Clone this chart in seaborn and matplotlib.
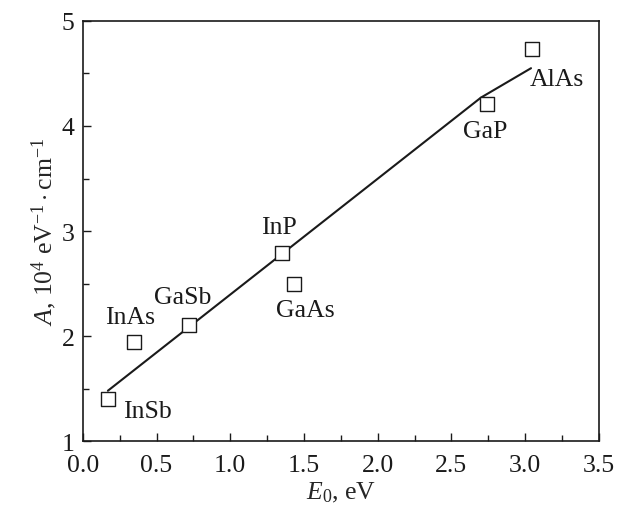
import matplotlib
matplotlib.use("Agg")
import matplotlib.pyplot as plt
import seaborn as sns
import pandas as pd
from matplotlib.ticker import MultipleLocator

# Data
materials = ["InSb", "InAs", "GaSb", "InP", "GaAs", "GaP", "AlAs"]
e0 = [0.17, 0.35, 0.72, 1.35, 1.43, 2.74, 3.05]
a_vals = [1.40, 1.94, 2.11, 2.79, 2.50, 4.21, 4.73]
# label anchor positions (data coords)
label_x = [0.27, 0.32, 0.68, 1.33, 1.51, 2.73, 3.03]
label_y = [1.29, 2.18, 2.37, 3.04, 2.25, 3.95, 4.45]
label_ha = ["left", "center", "center", "center", "center", "center", "left"]
# fit line
fit_x = [0.17, 2.70, 3.04]
fit_y = [1.48, 4.27, 4.55]

sns.set_style("ticks")
plt.rcParams["font.family"] = ["Liberation Serif", "DejaVu Serif"]
plt.rcParams["mathtext.fontset"] = "custom"
plt.rcParams["mathtext.rm"] = "Liberation Serif"
plt.rcParams["mathtext.it"] = "Liberation Serif:italic"
plt.rcParams["mathtext.bf"] = "Liberation Serif:bold"

fig = plt.figure(figsize=(6.18, 5.10), dpi=100)
ax = fig.add_axes([0.134, 0.133, 0.835, 0.824])

df_pts = pd.DataFrame({"E0": e0, "A": a_vals, "mat": materials})
df_fit = pd.DataFrame({"E0": fit_x, "A": fit_y})

sns.lineplot(data=df_fit, x="E0", y="A", ax=ax, color="#1a1a1a", linewidth=1.5,
             sort=False, zorder=2)
sns.scatterplot(data=df_pts, x="E0", y="A", ax=ax, marker="s", s=95,
                facecolor="white", edgecolor="#1a1a1a", linewidth=1.0, zorder=3)

for xt, yt, t, ha in zip(label_x, label_y, materials, label_ha):
    ax.text(xt, yt, t, fontsize=18.5, ha=ha, va="center", color="#1a1a1a")

ax.set_xlim(0, 3.5)
ax.set_ylim(1, 5)
ax.xaxis.set_major_locator(MultipleLocator(0.5))
ax.xaxis.set_minor_locator(MultipleLocator(0.25))
ax.yaxis.set_major_locator(MultipleLocator(1))
ax.yaxis.set_minor_locator(MultipleLocator(0.5))
ax.set_xticks([0, 0.5, 1.0, 1.5, 2.0, 2.5, 3.0, 3.5])
ax.set_xticklabels(["0.0", "0.5", "1.0", "1.5", "2.0", "2.5", "3.0", "3.5"])
ax.tick_params(which="both", direction="in", width=1.0, colors="#1a1a1a",
               labelsize=18.5, top=False, right=False)
ax.tick_params(which="major", length=6)
ax.tick_params(axis="x", which="major", pad=9)
ax.tick_params(axis="y", which="major", pad=6)
ax.tick_params(which="minor", length=4)
for sp in ax.spines.values():
    sp.set_linewidth(1.2)
    sp.set_color("#1a1a1a")
    sp.set_visible(True)

ax.set_xlabel(r"$E_{\mathrm{0}}$, eV", fontsize=18.5, labelpad=3)
ax.set_ylabel(r"$A$, 10$^{4}$ eV$^{-1}\cdot$cm$^{-1}$", fontsize=18.5, labelpad=2)

fig.savefig("out.png", dpi=100)
